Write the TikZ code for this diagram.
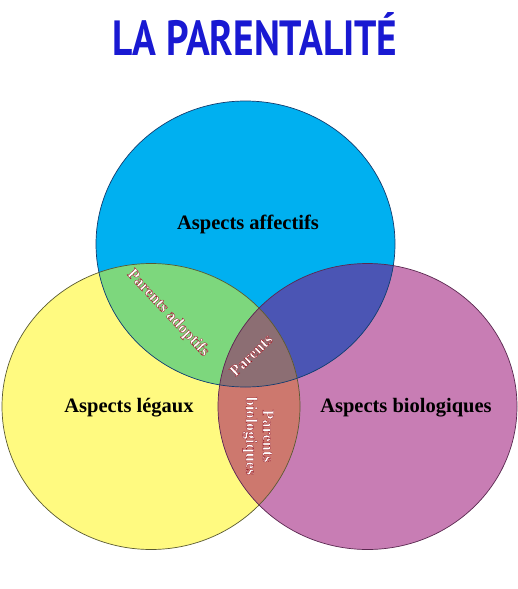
\documentclass[tikz,border=0pt]{standalone}
\usepackage{fontspec}
\usepackage{graphicx}
\setmainfont{Liberation Serif}
\newfontfamily\titlefont{PT Sans}
\definecolor{cblue}{RGB}{0,176,240}
\definecolor{cyellow}{RGB}{255,250,128}
\definecolor{cmag}{RGB}{200,125,180}
\definecolor{cgreen}{RGB}{125,215,125}
\definecolor{cdblue}{RGB}{75,85,180}
\definecolor{cbrown}{RGB}{205,120,110}
\definecolor{ccenter}{RGB}{140,110,115}
\definecolor{lblue}{RGB}{20,60,110}
\definecolor{lyellow}{RGB}{90,90,50}
\definecolor{lmag}{RGB}{90,40,80}
\definecolor{titleblue}{RGB}{25,25,210}
% white text with a thin dark red outline (PDF text render mode 2)
\newcommand\outl[1]{{\color{white}\special{pdf:literal direct 2 Tr 0.3 w 0.59 0.08 0.12 RG}#1\special{pdf:literal direct 0 Tr}}}
\tikzset{
  outer/.style={font=\fontsize{20.5}{24}\selectfont\bfseries, text=black, inner sep=0pt},
  inner/.style={font=\fontsize{16.2}{16.8}\selectfont\bfseries, inner sep=0pt, align=center},
  blueE/.style={insert path={(245.5,244) ellipse [x radius=149.5, y radius=143]}},
  yellowE/.style={insert path={(151,406.5) ellipse [x radius=149, y radius=143]}},
  magE/.style={insert path={(367.5,406.5) ellipse [x radius=149.5, y radius=143]}},
}
\begin{document}
\begin{tikzpicture}[x=1pt,y=-1pt]
\useasboundingbox (0,0) rectangle (518,589);
\fill[white] (0,0) rectangle (518,589);
% base fills
\fill[cyellow, yellowE];
\fill[cmag, magE];
\fill[cblue, blueE];
% overlaps
\begin{scope}\clip[yellowE]; \fill[cgreen, blueE]; \end{scope}
\begin{scope}\clip[magE]; \fill[cdblue, blueE]; \end{scope}
\begin{scope}\clip[yellowE]; \fill[cbrown, magE]; \end{scope}
\begin{scope}\clip[yellowE]; \clip[magE]; \fill[ccenter, blueE]; \end{scope}
% outlines
\draw[lyellow, line width=0.7pt, yellowE];
\draw[lmag, line width=0.7pt, magE];
\draw[lblue, line width=0.7pt, blueE];
% title
\node[anchor=base west, inner sep=0pt, text=titleblue] (title) at (112,55)
  {\resizebox{285pt}{43pt}{\titlefont\bfseries LA PARENTALITÉ}};
% labels
\node[outer] (aff) at (248,224) {Aspects affectifs};
\node[outer] (leg) at (129,408) {Aspects légaux};
\node[outer] (bio) at (406,408) {Aspects biologiques};
\node[inner, rotate=-47] (adopt) at (168,313) {\outl{Parents adoptifs}};
\node[inner, rotate=44] (par) at (251,355) {\outl{Parents}};
\node[inner, rotate=-90] (pbio) at (258,436) {\outl{Parents}\\\outl{biologiques}};
\end{tikzpicture}
\end{document}
